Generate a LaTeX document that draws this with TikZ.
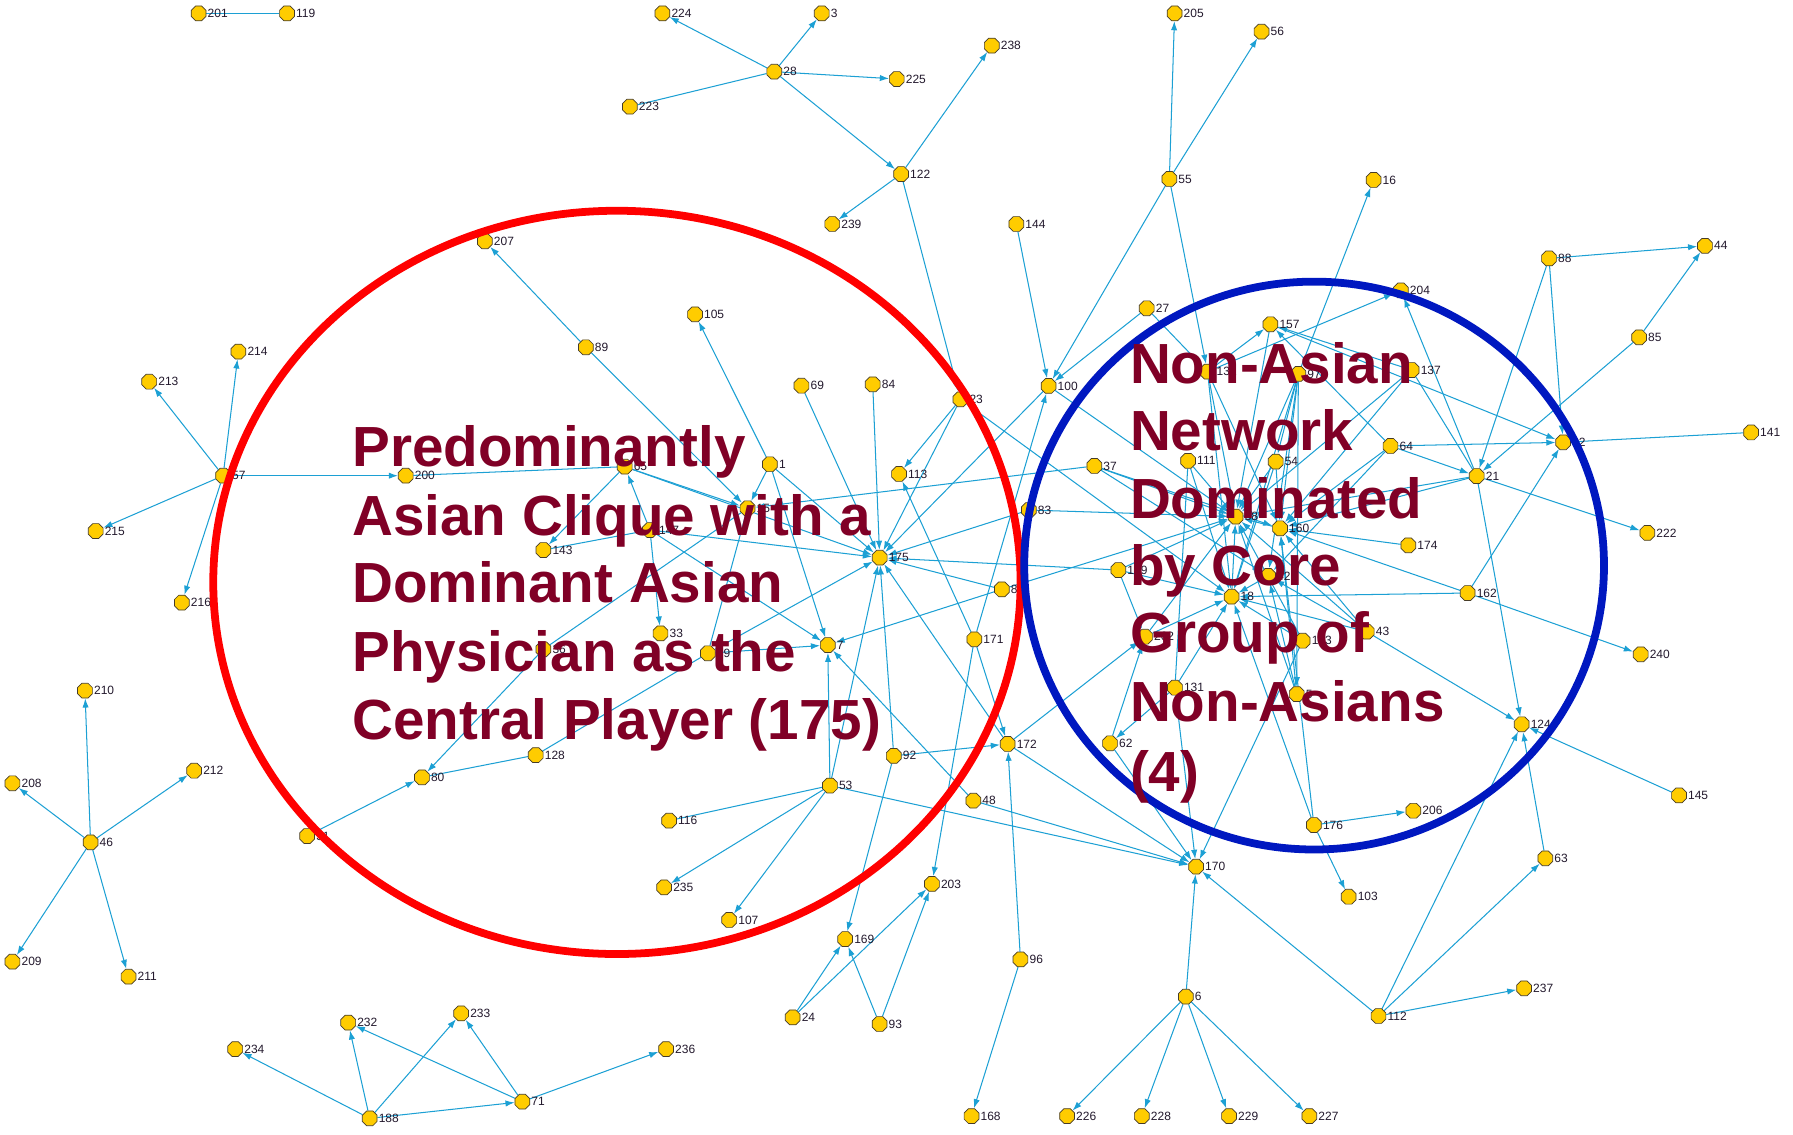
\documentclass[tikz,border=0pt]{standalone}
\usepackage{fontspec}
\setmainfont{Liberation Sans}
\usetikzlibrary{shapes.geometric,arrows.meta,backgrounds}
\definecolor{vtxfill}{RGB}{255,204,0}
\definecolor{vtxline}{RGB}{70,60,40}
\definecolor{tieblue}{RGB}{28,160,212}
\definecolor{idtext}{RGB}{35,25,45}
\definecolor{captionred}{RGB}{128,0,38}
\definecolor{ringred}{RGB}{255,0,0}
\definecolor{ringblue}{RGB}{0,24,192}
\tikzset{
  vtx/.style={regular polygon, regular polygon sides=8, minimum size=14pt, inner sep=0pt,
              fill=vtxfill, draw=vtxline, line width=0.6pt},
  idlabel/.style={font=\fontsize{10.5}{10.5}\selectfont, text=idtext, inner sep=0.5pt, label distance=0.5pt},
  tie/.style={draw=tieblue, line width=0.9pt},
  arc/.style={tie, -{Latex[length=8pt,width=5.5pt]}},
  ring/.style={line width=6.8pt},
  caption/.style={font=\fontsize{49.5}{59.5}\selectfont\bfseries, text=captionred,
                  anchor=base west, inner sep=0pt},
}
% actor: name/label, position
\newcommand\vtxat[2]{\node[vtx, label={[idlabel]right:#1}] (n#1) at (#2) {};}
\begin{document}
\begin{tikzpicture}[x=1pt,y=-1pt]
\useasboundingbox (0,0) rectangle (1568,992);

% ---------- actors ----------
\vtxat{201}{173.7,11.7}
\vtxat{119}{251,11.7}
\vtxat{224}{579.3,11.7}
\vtxat{3}{718.6,11.7}
\vtxat{28}{677.1,62.7}
\vtxat{225}{784.2,69.1}
\vtxat{238}{867.3,39.9}
\vtxat{223}{550.8,93.3}
\vtxat{122}{788,152.2}
\vtxat{239}{727.8,195.9}
\vtxat{144}{888.8,195.9}
\vtxat{205}{1027.2,11.7}
\vtxat{56}{1103.2,27.7}
\vtxat{55}{1022.6,156.5}
\vtxat{16}{1201.2,157.4}
\vtxat{207}{424,211}
\vtxat{89}{512.3,303.7}
\vtxat{105}{607.8,274.9}
\vtxat{214}{208.5,307.5}
\vtxat{213}{130.5,333.8}
\vtxat{57}{195.1,416}
\vtxat{200}{354.8,416}
\vtxat{215}{83.7,464.4}
\vtxat{216}{159,527}
\vtxat{143}{475.2,481}
\vtxat{36}{475.2,567.8}
\vtxat{210}{74.3,604}
\vtxat{69}{700.9,337.3}
\vtxat{84}{763.2,336.1}
\vtxat{23}{839.9,349.2}
\vtxat{100}{917,337.5}
\vtxat{65}{546.3,408.1}
\vtxat{1}{673.3,406}
\vtxat{113}{786.2,414.5}
\vtxat{15}{653.7,444.5}
\vtxat{147}{568.4,463.5}
\vtxat{83}{899.7,446}
\vtxat{175}{769.3,487.7}
\vtxat{86}{876.1,515.4}
\vtxat{33}{577.6,553.9}
\vtxat{99}{619,571.3}
\vtxat{7}{723.9,564.1}
\vtxat{171}{852.1,559.1}
\vtxat{172}{881.2,650.6}
\vtxat{53}{725.8,687}
\vtxat{116}{585.1,717.7}
\vtxat{235}{580.8,776}
\vtxat{107}{637.7,804.5}
\vtxat{169}{739.1,821.2}
\vtxat{24}{693.2,889.7}
\vtxat{93}{769.2,895.5}
\vtxat{203}{815,773}
\vtxat{48}{851.2,700.2}
\vtxat{92}{781.6,661}
\vtxat{96}{892.4,839}
\vtxat{168}{849.6,976}
\vtxat{226}{933.2,976}
\vtxat{228}{998.5,976}
\vtxat{229}{1074.8,976}
\vtxat{227}{1145,976}
\vtxat{170}{1046,757.9}
\vtxat{6}{1037,871.6}
\vtxat{208}{10.9,685}
\vtxat{212}{169.8,674}
\vtxat{46}{79.2,736.6}
\vtxat{209}{10.9,841}
\vtxat{211}{112.4,854.1}
\vtxat{80}{369,679.8}
\vtxat{128}{468.5,660.3}
\vtxat{31}{268.6,731.1}
\vtxat{234}{205.7,917.4}
\vtxat{232}{304.5,894.3}
\vtxat{233}{403.3,886.2}
\vtxat{188}{323.3,978}
\vtxat{71}{456.8,963.4}
\vtxat{236}{582.5,917.4}
\vtxat{27}{1002.8,269.6}
\vtxat{157}{1111,283.6}
\vtxat{204}{1225,254}
\vtxat{132}{1056,325}
\vtxat{97}{1135.4,327}
\vtxat{137}{1234.5,323.6}
\vtxat{37}{957,407.5}
\vtxat{111}{1039,403}
\vtxat{54}{1115.6,403.7}
\vtxat{64}{1216,390}
\vtxat{58}{1080.6,451.8}
\vtxat{160}{1119.4,462}
\vtxat{174}{1231.6,476.9}
\vtxat{149}{978,498.5}
\vtxat{18}{1077,521.8}
\vtxat{42}{1109,503.7}
\vtxat{202}{1001.3,556.8}
\vtxat{133}{1139.2,560.3}
\vtxat{43}{1195.2,552.4}
\vtxat{131}{1027.5,601.4}
\vtxat{5}{1134,607}
\vtxat{62}{970.7,650}
\vtxat{176}{1149,721.5}
\vtxat{206}{1236,709}
\vtxat{88}{1354.6,226}
\vtxat{44}{1491,215}
\vtxat{85}{1433.4,295}
\vtxat{82}{1367,386.8}
\vtxat{21}{1291.4,416.3}
\vtxat{222}{1440.6,466}
\vtxat{162}{1283.5,518.6}
\vtxat{240}{1434.8,572.2}
\vtxat{124}{1330.7,633.4}
\vtxat{145}{1468.3,695.6}
\vtxat{141}{1531.3,378.2}
\vtxat{63}{1351.4,750.6}
\vtxat{237}{1332.8,864.3}
\vtxat{112}{1205.5,888.5}
\vtxat{103}{1179.4,784.2}

% ---------- ties (under the actors) ----------
\begin{pgfonlayer}{background}
\fill[white] (0,0) rectangle (1568,992);
% undirected ties
\foreach \a/\b in {201/119, 223/28, 200/65, 143/147, 15/36, 80/128, 128/99, 99/15,
                   53/116, 141/82, 137/21, 111/131}
  \draw[tie] (n\a) -- (n\b);
% directed ties
\foreach \a/\b in {28/224, 28/3, 28/225, 28/122, 122/238, 122/239, 122/23,
                   144/100, 55/205, 55/56, 55/100, 55/132, 97/16, 27/100, 27/132,
                   57/213, 57/214, 57/215, 57/216, 57/200,
                   89/207, 89/15, 1/105, 1/15, 1/175, 1/7,
                   65/15, 65/175, 65/143, 147/65, 147/33, 147/175, 147/7,
                   36/80, 31/80,
                   46/210, 46/208, 46/212, 46/209, 46/211,
                   188/234, 188/232, 188/233, 188/71, 71/232, 71/233, 71/236,
                   69/175, 84/175, 23/113, 23/175, 100/175, 23/18, 100/58,
                   171/113, 171/172, 171/100, 171/203,
                   86/175, 86/7, 86/58, 83/175, 83/58, 149/175, 37/15,
                   92/175, 53/175, 53/7, 99/7, 99/175,
                   92/169, 24/169, 24/203, 93/169, 93/203,
                   53/235, 53/107, 53/170, 48/170, 48/7,
                   96/172, 96/168, 92/172, 172/170, 172/175, 172/202,
                   6/170, 6/226, 6/228, 6/229, 6/227,
                   112/170, 112/63, 112/237, 112/124,
                   176/206, 176/103, 63/124, 145/124, 21/124, 43/124,
                   162/82, 162/240, 21/222, 88/44, 85/44, 88/21, 88/82, 85/21,
                   64/21, 64/82, 157/82, 21/204, 132/204, 132/157, 137/157, 64/157,
                   132/58, 132/18, 132/160,
                   97/58, 97/160, 97/18, 97/42, 97/5, 97/54,
                   157/58, 137/160, 137/58,
                   37/58, 37/42, 37/160,
                   111/58, 111/18,
                   54/58, 54/160, 54/18,
                   64/160, 64/42, 21/58, 21/160, 174/160,
                   162/18, 162/160,
                   149/58, 149/18, 149/202,
                   43/58, 43/18, 43/42, 43/160,
                   202/58, 202/18,
                   133/58, 133/18, 133/170,
                   131/18, 131/62, 131/170,
                   5/58, 5/160, 5/42,
                   176/18, 176/160,
                   62/202, 62/170,
                   18/58, 160/58, 42/18}
  \draw[arc] (n\a) -- (n\b);
\end{pgfonlayer}

% ---------- group outlines ----------
\draw[ringred, ring] (539.5,509.3) ellipse [x radius=353pt, y radius=325pt];
\draw[ringblue, ring] (1149.2,494.6) ellipse [x radius=253.5pt, y radius=248.3pt];

% ---------- captions ----------
\node[caption] (capA1) at (308,408) {Predominantly};
\node[caption] (capA2) at (308,468) {Asian Clique with a};
\node[caption] (capA3) at (308,527) {Dominant Asian};
\node[caption] (capA4) at (308,587) {Physician as the};
\node[caption] (capA5) at (308,647) {Central Player (175)};

\node[caption] (capB1) at (988,335) {Non-Asian};
\node[caption] (capB2) at (988,394) {Network};
\node[caption] (capB3) at (988,453) {Dominated};
\node[caption] (capB4) at (988,512) {by Core};
\node[caption] (capB5) at (988,571) {Group of};
\node[caption] (capB6) at (988,631) {Non-Asians};
\node[caption] (capB7) at (988,692) {(4)};
\end{tikzpicture}
\end{document}
